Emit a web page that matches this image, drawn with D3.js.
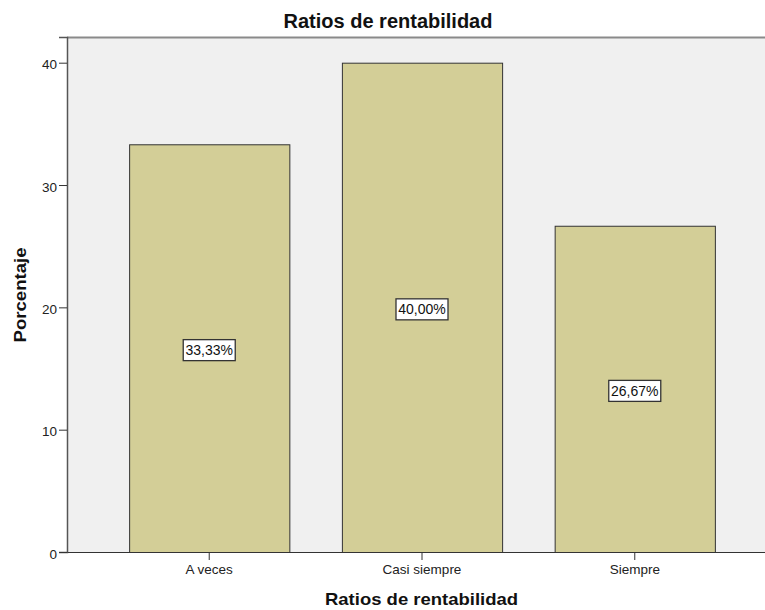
<!DOCTYPE html>
<html><head><meta charset="utf-8">
<script src="https://cdn.jsdelivr.net/npm/d3@7"></script>
<style>body{margin:0;background:#fff}svg{display:block}text{font-family:"Liberation Sans",Arial,sans-serif}</style>
</head><body>
<svg id="c" width="765" height="610"></svg>
<script>
const categories = ["A veces", "Casi siempre", "Siempre"];
const values = [33.33, 40.00, 26.67];
const valueLabels = ["33,33%", "40,00%", "26,67%"];
const yTicks = [0, 10, 20, 30, 40];

const svg = d3.select("#c");
const L = 67, T = 37, R = 777, B = 552;
const x = d3.scaleBand().domain(categories).range([L, R]).paddingInner(0.247).paddingOuter(0.292);
const y = d3.scaleLinear().domain([0, 42.1]).range([B, T]);

svg.append("rect").attr("x", L).attr("y", T).attr("width", R - L).attr("height", B - T)
  .attr("fill", "#f0f0f0");
svg.append("line").attr("x1", L).attr("x2", R).attr("y1", T + 0.5).attr("y2", T + 0.5)
  .attr("stroke", "#8a8a8a").attr("stroke-width", 2);

svg.selectAll("rect.bar").data(values).enter().append("rect").attr("class", "bar")
  .attr("x", (d, i) => x(categories[i]) + 0.5)
  .attr("y", d => y(d) + 0.5)
  .attr("width", x.bandwidth())
  .attr("height", d => B - y(d))
  .attr("fill", "#d3ce97").attr("stroke", "#333").attr("stroke-width", 1);

// axes
const ya = d3.axisLeft(y).tickValues(yTicks).tickSize(8).tickPadding(2).tickFormat(d3.format("d"));
const gy = svg.append("g").attr("transform", `translate(${L},0)`).call(ya);
gy.select(".domain").attr("stroke", "#555").attr("stroke-width", 1.5);
gy.selectAll(".tick line").attr("stroke", "#333");
gy.selectAll(".tick text").attr("font-size", 13.5).attr("fill", "#222").attr("dy", "0.45em")
  .attr("font-family", "Liberation Sans, Arial, sans-serif");

const xa = d3.axisBottom(x).tickSize(8).tickPadding(4).tickSizeOuter(0);
const gx = svg.append("g").attr("transform", `translate(0,${B})`).call(xa);
gx.select(".domain").attr("stroke", "#333");
gx.selectAll(".tick line").attr("stroke", "#333");
gx.selectAll(".tick text").attr("font-size", 13.5).attr("fill", "#222")
  .attr("font-family", "Liberation Sans, Arial, sans-serif");

// value labels
const lg = svg.selectAll("g.vl").data(values).enter().append("g").attr("class", "vl")
  .attr("transform", (d, i) => `translate(${x(categories[i]) + x.bandwidth() / 2},${y(d / 2) + 2})`);
lg.append("rect").attr("x", -26).attr("y", -10.5).attr("width", 52).attr("height", 21)
  .attr("fill", "#fff").attr("stroke", "#333").attr("stroke-width", 1.3);
lg.append("text").attr("text-anchor", "middle").attr("dy", "0.36em").attr("font-size", 14)
  .attr("fill", "#111").text((d, i) => valueLabels[i]);

svg.append("text").attr("x", 388).attr("y", 28).attr("text-anchor", "middle")
  .attr("font-size", 20).attr("font-weight", "bold").attr("fill", "#111").text("Ratios de rentabilidad");
svg.append("text").attr("x", 421.5).attr("y", 605).attr("text-anchor", "middle")
  .attr("font-family", "DejaVu Sans, sans-serif")
  .attr("font-size", 17).attr("font-weight", "bold").attr("fill", "#111")
  .attr("textLength", 193).attr("lengthAdjust", "spacingAndGlyphs").text("Ratios de rentabilidad");
svg.append("text").attr("transform", "translate(26,295) rotate(-90)").attr("text-anchor", "middle")
  .attr("font-family", "DejaVu Sans, sans-serif")
  .attr("font-size", 17).attr("font-weight", "bold").attr("fill", "#111")
  .attr("textLength", 95).attr("lengthAdjust", "spacingAndGlyphs").text("Porcentaje");
</script>
</body></html>
